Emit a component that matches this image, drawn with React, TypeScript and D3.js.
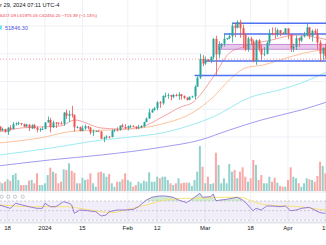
import React from "react";
import * as d3 from "d3";

const W = 326;
const H = 245;

// daily candles from 2023-12-15, prices in thousand USD
const firstDay = new Date(Date.UTC(2023, 11, 15));
const opens = [
  43.0, 41.9, 42.3, 41.4, 42.7, 42.3, 43.7, 43.9, 44.0, 43.7, 43.0, 43.6, 42.5, 43.4, 42.6, 42.1, 42.2,
  42.3, 44.2, 44.9, 42.8, 44.2, 44.1, 43.9, 43.8, 47.0, 46.1, 46.6, 46.3, 42.8, 42.9, 41.7, 42.5, 43.1,
  42.7, 41.3, 41.6, 41.7, 41.6, 39.5, 39.8, 40.1, 40.0, 41.8, 42.1, 42.0, 43.3, 42.9,
  42.6, 43.1, 43.2, 43.0, 42.6, 42.7, 43.1, 44.3, 45.3, 47.1, 47.8, 48.3, 50.0, 49.7, 51.8, 51.9, 52.1,
  51.6, 52.1, 51.8, 52.3, 51.8, 51.3, 50.7, 51.6, 51.7, 54.5, 57.1, 62.5,
  61.2, 62.4, 62.0, 63.1, 68.3, 63.8, 66.1, 66.9, 68.3, 68.5, 69.0, 72.1, 71.5, 73.1, 71.4, 69.5, 65.3,
  68.4, 67.6, 61.9, 67.9, 65.5, 63.8, 64.0, 67.2, 70.0, 69.9, 69.5, 70.8, 69.9, 69.7,
  71.3, 69.7, 65.5, 66.0, 68.5, 67.8, 69.0, 69.4, 71.6, 69.1, 70.6, 70.0, 67.2, 64.0, 65.7,
];
const highs = [
  43.1, 42.7, 42.4, 42.8, 43.4, 44.3, 44.2, 44.4, 44.0, 43.9, 43.8, 43.6, 43.7, 43.8, 43.1, 42.6, 42.9,
  44.2, 45.9, 45.5, 44.7, 44.3, 44.2, 44.5, 47.2, 47.9, 47.6, 49.0, 46.5, 43.2, 43.0, 43.3, 43.6, 43.2,
  42.9, 42.2, 41.9, 41.9, 41.7, 40.1, 40.5, 40.3, 42.2, 42.2, 42.8, 43.3, 43.8, 43.7,
  43.3, 43.5, 43.4, 43.1, 43.5, 43.4, 44.4, 45.6, 48.2, 48.2, 48.6, 50.3, 50.4, 52.0, 52.8, 52.6, 52.2,
  52.4, 52.5, 52.9, 52.4, 52.0, 51.5, 51.7, 51.9, 54.9, 57.5, 64.0, 63.6,
  63.2, 62.5, 63.2, 68.5, 69.2, 67.6, 67.0, 69.9, 68.6, 70.0, 72.8, 72.9, 73.6, 73.8, 72.4, 70.0, 68.9,
  68.9, 68.1, 68.1, 68.2, 66.6, 65.9, 67.6, 71.1, 71.6, 71.6, 71.3, 70.9, 70.3, 71.4,
  71.3, 69.7, 66.9, 69.3, 68.7, 69.2, 70.3, 72.7, 71.7, 71.0, 71.2, 71.2, 67.9, 65.8, 66.9,
];
const lows = [
  41.7, 41.7, 41.3, 40.6, 41.8, 42.2, 43.3, 43.4, 43.3, 42.8, 42.8, 41.7, 42.3, 42.3, 41.3, 41.5, 42.0,
  42.2, 44.2, 41.3, 42.6, 42.6, 43.4, 43.6, 43.2, 45.2, 44.3, 45.6, 41.5, 42.5, 41.7, 41.7, 42.0, 42.2,
  40.7, 40.3, 41.5, 41.5, 39.4, 38.5, 39.5, 39.6, 39.9, 41.4, 41.6, 41.8, 42.7, 42.3,
  41.9, 42.6, 42.9, 42.2, 42.3, 42.6, 42.8, 44.3, 45.3, 47.0, 47.6, 47.7, 48.4, 49.3, 51.4, 51.0, 50.6,
  51.2, 51.7, 50.7, 50.8, 50.9, 50.5, 50.6, 51.3, 50.9, 54.5, 56.7, 60.4,
  60.8, 61.7, 61.3, 62.4, 57.8, 62.8, 65.5, 66.1, 68.0, 68.2, 67.2, 68.8, 71.3, 68.6, 65.6, 64.8, 64.6,
  66.6, 61.5, 60.8, 64.6, 62.3, 63.3, 63.8, 66.4, 69.3, 68.4, 68.9, 69.1, 69.6, 69.6,
  68.2, 64.5, 64.5, 65.1, 66.0, 67.4, 68.7, 69.1, 68.2, 67.5, 69.6, 65.3, 61.6, 62.2, 62.4,
];
const closes = [
  41.9, 42.3, 41.4, 42.7, 42.3, 43.7, 43.9, 44.0, 43.7, 43.0, 43.6, 42.5, 43.4, 42.6, 42.1, 42.2, 42.3,
  44.2, 44.9, 42.8, 44.2, 44.1, 43.9, 43.8, 47.0, 46.1, 46.6, 46.3, 42.8, 42.9, 41.7, 42.5, 43.1, 42.7,
  41.3, 41.6, 41.7, 41.6, 39.5, 39.8, 40.1, 40.0, 41.8, 42.1, 42.0, 43.3, 42.9, 42.6,
  43.1, 43.2, 43.0, 42.6, 42.7, 43.1, 44.3, 45.3, 47.1, 47.8, 48.3, 50.0, 49.7, 51.8, 51.9, 52.1, 51.6,
  52.1, 51.8, 52.3, 51.8, 51.3, 50.7, 51.6, 51.7, 54.5, 57.1, 62.5, 61.2,
  62.4, 62.0, 63.1, 68.3, 63.8, 66.1, 66.9, 68.3, 68.5, 69.0, 72.1, 71.5, 73.1, 71.4, 69.5, 65.3, 68.4,
  67.6, 61.9, 67.9, 65.5, 63.8, 64.0, 67.2, 70.0, 69.9, 69.5, 70.8, 69.9, 69.7, 71.3,
  69.7, 65.5, 66.0, 68.5, 67.8, 69.0, 69.4, 71.6, 69.1, 70.6, 70.0, 67.2, 64.0, 65.7, 63.4,
];
const volumes = [
  9.3, 7.7, 9.3, 11.7, 10.3, 16.0, 17.7, 11.0, 6.0, 6.0,
  6.0, 10.3, 11.0, 7.7, 17.7, 6.0, 6.0, 7.7, 16.0, 23.3,
  19.3, 17.7, 7.7, 9.3, 21.7, 21.0, 27.7, 20.3, 18.3, 7.7,
  7.7, 13.3, 11.0, 11.7, 17.7, 7.7, 4.3, 18.7, 19.3, 17.7,
  14.3, 17.0, 7.7, 4.3, 9.3, 9.3, 11.7, 17.7, 11.0, 9.3,
  4.3, 6.0, 9.3, 7.7, 10.3, 9.3, 18.7, 9.3, 9.3, 14.3,
  12.7, 14.3, 14.3, 11.0, 7.7, 6.0, 7.7, 12.7, 7.7, 8.3,
  8.3, 8.3, 5.0, 11.0, 19.3, 45.0, 24.3, 7.7, 14.3, 7.0,
  7.7, 38.3, 26.0, 7.7, 12.7, 7.7, 27.0, 19.3, 21.0, 12.7,
  19.3, 23.7, 14.3, 9.3, 12.7, 31.0, 26.0, 11.0, 16.0, 7.7,
  7.7, 14.3, 9.3, 13.3, 8.3, 5.0, 4.3, 4.3, 11.0, 23.7,
  14.3, 12.7, 7.7, 4.3, 7.7, 12.7, 11.7, 11.0, 9.3, 15.0,
  29.3, 25.0, 17.7,
];

// moving averages: day offset from 2024-01-01 -> price
const ma20Days = [-17, -9, -2, 6, 11, 21, 28, 36, 44, 51, 55, 63, 69, 74, 85, 94, 103, 106];
const ma20 = [41.5, 42.6, 42.9, 43.2, 44.9, 42.6, 42.3, 42.9, 45.8, 48.7, 49.8, 57.3, 64.2, 65.9, 68.0, 69.4, 68.5, 68.0];
const ma50Days = [-17, -2, 11, 24, 36, 44, 55, 63, 69, 75, 82, 88, 97, 106];
const ma50 = [38.3, 39.7, 41.7, 42.0, 42.6, 43.8, 46.9, 51.5, 56.4, 59.9, 60.8, 62.2, 64.2, 65.4];
const ma100Days = [-17, 2, 21, 32, 44, 55, 63, 77, 88, 96, 106];
const ma100 = [34.8, 36.8, 39.1, 40.0, 41.2, 43.5, 45.8, 51.5, 53.6, 55.6, 58.9];
const ma200Days = [-17, 2, 21, 44, 58, 69, 81, 96, 106];
const ma200 = [31.7, 33.4, 34.8, 37.1, 39.1, 42.0, 44.9, 47.8, 50.2];

// drawn horizontal levels: price and first day
const levelPrices = [72.8, 69.7, 61.9, 57.7];
const levelStart = [70, 67, 60, 56];
const bandPrices = [65.3, 66.7];
const bandStart = 65;
const lastClose = 62.45;

// RSI 14 and its moving average
const rsiDays = [-17, -13, -11, -6, -3, -1, 0, 2, 4, 7, 9, 10, 11, 13, 16, 19, 21, 23, 24, 27, 30, 33, 35, 38, 40, 43, 45, 48, 50, 53, 55, 58, 59, 62, 63, 64, 68, 72, 74, 76, 77, 78, 79, 81, 83, 85, 88, 90, 92, 94, 96, 99, 101, 103, 105];
const rsiValues = [61.7, 54.8, 65.2, 58.2, 54.8, 54.8, 65.2, 58.2, 58.2, 68.6, 65.2, 61.7, 44.5, 51.3, 49.9, 47.8, 38.9, 41.0, 47.8, 51.3, 51.3, 52.6, 58.2, 72.1, 77.7, 80.4, 80.4, 77.7, 72.1, 66.6, 73.5, 85.9, 77.7, 79.0, 84.5, 70.7, 73.5, 77.7, 72.1, 61.7, 54.8, 49.9, 54.8, 51.3, 59.6, 59.6, 58.2, 59.6, 49.9, 51.3, 54.8, 56.9, 51.3, 45.8, 44.5];
const rsiMaDays = [-17, -4, 8, 13, 21, 25, 30, 38, 45, 53, 58, 64, 73, 78, 83, 90, 95, 103, 106];
const rsiMa = [61.7, 58.2, 58.2, 54.8, 47.8, 45.8, 51.3, 61.7, 72.1, 75.6, 75.6, 77.7, 77.7, 68.6, 61.7, 59.6, 58.2, 52.6, 51.0];

const tickDays = [-14, 0, 14, 31, 42, 60, 77, 91, 105];
const tickLabels = ["18", "2024", "15", "Feb", "12", "Mar", "18", "Apr", "15"];
const priceGrid = [40, 48, 56, 64, 72];

const FONT = "'Liberation Sans', Arial, sans-serif";
const UP = "#26a69a";
const DOWN = "#ef5350";

const jan1 = new Date(Date.UTC(2024, 0, 1));
const dayDate = (d: number) => d3.utcDay.offset(jan1, d);

const x = d3.scaleUtc().domain([jan1, dayDate(105)]).range([45, 325.4]);
const y = d3.scaleLinear().domain([40, 72]).range([137, 26]);
const yVol = d3.scaleLinear().domain([0, 45]).range([191, 146]);
const yRsi = d3.scaleLinear().domain([30, 70]).range([220.3, 201]);

const maLine = (days: number[], vals: number[]) =>
  d3
    .line<number>()
    .x((_, i) => x(dayDate(days[i])))
    .y((v) => y(v))
    .curve(d3.curveMonotoneX)(vals) || "";

const rsiLine = (days: number[], vals: number[], curve = d3.curveLinear) =>
  d3
    .line<number>()
    .x((_, i) => x(dayDate(days[i])))
    .y((v) => yRsi(v))
    .curve(curve)(vals) || "";

export default function App() {
  const candles = closes.map((c, i) => ({
    date: d3.utcDay.offset(firstDay, i),
    o: opens[i],
    h: highs[i],
    l: lows[i],
    c,
    v: volumes[i],
  }));

  const rsiArea =
    d3
      .area<number>()
      .x((_, i) => x(dayDate(rsiDays[i])))
      .y0(yRsi(70))
      .y1((v) => yRsi(v))(rsiValues) || "";

  return (
    <svg
      width={W}
      height={H}
      style={{ position: "fixed", left: 0, top: 0, background: "#fff", fontFamily: FONT }}
    >
      <defs>
        <clipPath id="main">
          <rect x={0} y={0} width={W} height={192} />
        </clipPath>
        <clipPath id="rsi">
          <rect x={0} y={192} width={W} height={30} />
        </clipPath>
        <clipPath id="ob">
          <rect x={0} y={192} width={W} height={yRsi(70) - 192} />
        </clipPath>
      </defs>

      {/* grid */}
      {tickDays.map((d) => (
        <line key={"vg" + d} x1={x(dayDate(d))} x2={x(dayDate(d))} y1={0} y2={222} stroke="#eef1f6" />
      ))}
      {priceGrid.map((p) => (
        <line key={"hg" + p} x1={0} x2={W} y1={y(p)} y2={y(p)} stroke="#eef1f6" />
      ))}

      <g clipPath="url(#main)">
        {/* volume */}
        {candles.map((k, i) => (
          <rect
            key={"v" + i}
            x={x(k.date) - 1}
            width={2}
            y={yVol(k.v)}
            height={yVol(0) - yVol(k.v)}
            fill={k.c >= k.o ? "#92d2cc" : "#f7a9a7"}
          />
        ))}

        {/* moving averages */}
        <path d={maLine(ma200Days, ma200)} fill="none" stroke="#a29cf0" strokeWidth={1} />
        <path d={maLine(ma100Days, ma100)} fill="none" stroke="#9debf2" strokeWidth={1} />
        <path d={maLine(ma50Days, ma50)} fill="none" stroke="#fcc39a" strokeWidth={1} />
        <path d={maLine(ma20Days, ma20)} fill="none" stroke="#f7a3a6" strokeWidth={1} />

        {/* last price */}
        <line x1={0} x2={W} y1={y(lastClose)} y2={y(lastClose)} stroke="#f5a0a6" strokeDasharray="1,2" />

        {/* drawn band and levels */}
        <rect
          x={x(dayDate(bandStart))}
          width={W - x(dayDate(bandStart))}
          y={y(bandPrices[1])}
          height={y(bandPrices[0]) - y(bandPrices[1])}
          fill="#ce93d8"
          fillOpacity={0.5}
          stroke="#c27bd0"
          strokeWidth={0.8}
        />
        {levelPrices.map((p, i) => (
          <line
            key={"lv" + i}
            x1={x(dayDate(levelStart[i]))}
            x2={W}
            y1={y(p)}
            y2={y(p)}
            stroke="#4f72f5"
            strokeWidth={1.5}
          />
        ))}

        {/* candles */}
        {candles.map((k, i) => {
          const cx = Math.round(x(k.date)) + 0.5;
          const col = k.c >= k.o ? UP : DOWN;
          const top = y(Math.max(k.o, k.c));
          const bot = y(Math.min(k.o, k.c));
          return (
            <g key={"c" + i}>
              <line x1={cx} x2={cx} y1={y(k.h)} y2={y(k.l)} stroke={col} strokeWidth={0.8} />
              <rect x={cx - 1} width={2} y={top} height={Math.max(0.8, bot - top)} fill={col} />
            </g>
          );
        })}
      </g>

      {/* pane separator */}
      <line x1={0} x2={W} y1={192} y2={192} stroke="#e0e3eb" strokeWidth={0.8} />

      {/* RSI pane */}
      <g clipPath="url(#rsi)">
        <rect x={0} y={yRsi(70)} width={W} height={yRsi(30) - yRsi(70)} fill="#7e57c2" fillOpacity={0.1} />
        {[70, 50, 30].map((v) => (
          <line
            key={"rl" + v}
            x1={0}
            x2={W}
            y1={yRsi(v)}
            y2={yRsi(v)}
            stroke="#9598a1"
            strokeOpacity={0.6}
            strokeWidth={0.7}
            strokeDasharray="2,2"
          />
        ))}
        <path d={rsiArea} fill="#4caf50" fillOpacity={0.25} clipPath="url(#ob)" />
        <path d={rsiLine(rsiMaDays, rsiMa, d3.curveMonotoneX)} fill="none" stroke="#f6e27a" strokeWidth={1} />
        <path d={rsiLine(rsiDays, rsiValues)} fill="none" stroke="#8e6fd1" strokeWidth={0.9} />
      </g>
      {[1.7, 8.3, 15, 22.7].map((cx) => (
        <circle key={"ic" + cx} cx={cx} cy={196.7} r={1.6} fill="none" stroke="#a3a6af" strokeWidth={0.6} />
      ))}
      <rect x={0} y={221.5} width={W} height={2} fill="#e0e3eb" />

      {/* time axis */}
      {tickDays.map((d, i) => (
        <text
          key={"tl" + d}
          x={x(dayDate(d))}
          y={229.5}
          textAnchor="middle"
          fontSize={6}
          fill="#131722"
        >
          {tickLabels[i]}
        </text>
      ))}

      {/* header */}
      <text x={0} y={7} fontSize={5.7} fill="#131722">
        r 29, 2024 07:11 UTC-4
      </text>
      <text x={0} y={17} fontSize={4.4} fill="#f23645">
        6417.09 L61975.05 C62450.20 −715.39 (−1.13%)
      </text>
      <rect x={0} y={25.5} width={2} height={4} fill="#6fe3ee" />
      <text x={5} y={30} fontSize={5.5} fill="#4f54d8">
        51846.30
      </text>
    </svg>
  );
}
